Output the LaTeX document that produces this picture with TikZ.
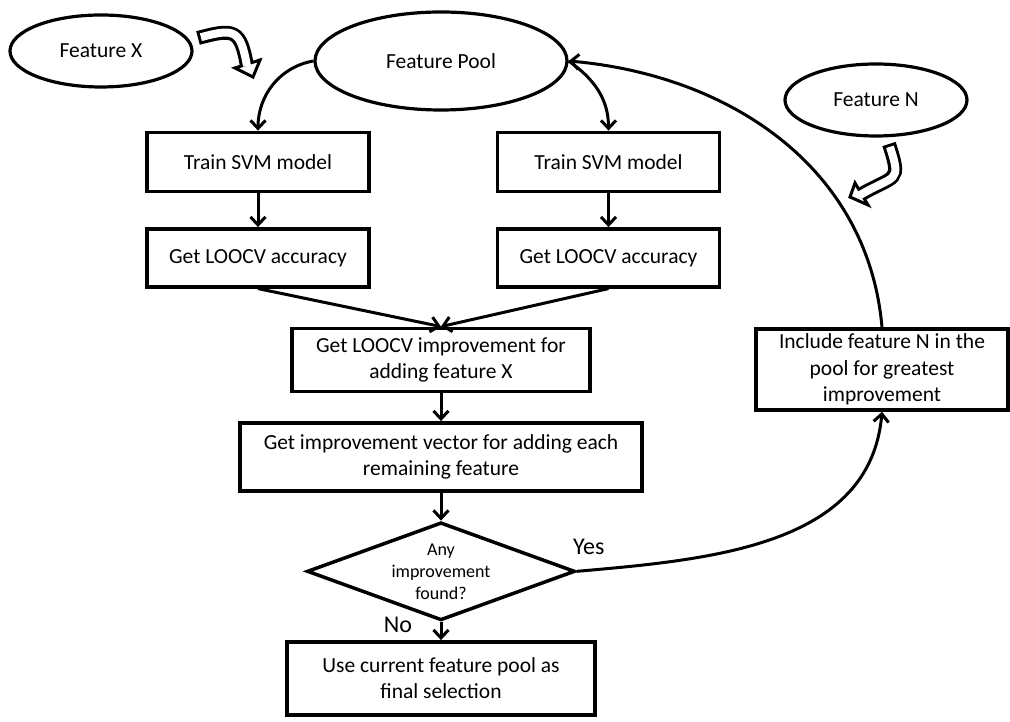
\documentclass[tikz,border=0pt]{standalone}
\usepackage{fontspec}
\setmainfont{Carlito}
\usepackage{tikz}
\usetikzlibrary{shapes.geometric, arrows.meta, positioning}
\newcommand{\boxfont}{\fontsize{21.5}{26.5}\selectfont}
\newcommand{\diafont}{\fontsize{18}{22}\selectfont}
\newcommand{\labfont}{\fontsize{24}{29}\selectfont}
\tikzstyle{block} = [rectangle, draw=black, line width=3.5pt, minimum width=222pt, minimum height=59pt, text centered, align=center, inner sep=2pt, font=\boxfont]
\tikzstyle{feature} = [ellipse, draw=black, line width=3.2pt, minimum width=182pt, minimum height=72pt, inner sep=2pt, font=\boxfont]
\tikzstyle{decision} = [diamond, draw=black, line width=3.5pt, aspect=2.7, minimum width=268pt, minimum height=98pt, inner sep=0pt, align=center, font=\diafont]
\tikzstyle{arrow} = [line width=3pt, ->, >={Straight Barb[length=8pt,width=15pt]}]
\tikzstyle{hollowrim} = [line width=14pt, line cap=butt]
\tikzstyle{hollowcore} = [white, line width=8pt, line cap=butt, shorten <=3pt]
\tikzstyle{hollowhead} = [draw=black, fill=white, line width=3pt, line join=miter]

\begin{document}
\begin{tikzpicture}[x=1pt, y=1pt]
\useasboundingbox (0,0) rectangle (1010,722);

% Pool and candidate features
\node (pool) [feature, minimum width=252pt, minimum height=98pt] at (441,661) {Feature Pool};
\node (feat-x) [feature] at (101,671) {Feature X};
\node (feat-n) [feature] at (876,622) {Feature N};

% SVM branches
\node (train-left) [block, below=19pt of pool, xshift=-183pt] {Train SVM model};
\node (train-right) [block, right=125pt of train-left] {Train SVM model};
\node (acc-left) [block, minimum height=58pt, below=34pt of train-left] {Get LOOCV accuracy};
\node (acc-right) [block, minimum height=58pt, below=34pt of train-right] {Get LOOCV accuracy};

% Main column
\node (improve) [block, minimum width=298pt, minimum height=63pt, below=38pt of acc-left, xshift=183pt] {Get LOOCV improvement for\\adding feature X};
\node (vector) [block, minimum width=402pt, minimum height=68pt, below=28pt of improve] {Get improvement vector for adding each\\remaining feature};
\node (found) [decision, below=28pt of vector] {Any\\improvement\\found?};
\node (final) [block, minimum width=308pt, minimum height=73pt, below=18pt of found] {Use current feature pool as\\final selection};

% Side branch
\node (include) [block, minimum width=252pt, minimum height=81pt] at (882,352.5) {Include feature N in the\\pool for greatest\\improvement};

% Decision labels
\node (yes) [font=\labfont, inner sep=0pt] at ([xshift=12pt, yshift=24pt]found.east) {Yes};
\node (no) [font=\labfont, inner sep=0pt] at ([xshift=-43pt, yshift=-3pt]found.south) {No};

% Arrows
\draw [arrow] (pool.west) to[out=190, in=90] (train-left.north);
\draw [arrow] (pool.east) to[out=-35, in=90] (train-right.north);
\draw [arrow] (train-left) -- (acc-left);
\draw [arrow] (train-right) -- (acc-right);
\draw [arrow] (acc-left.south) -- (improve.north);
\draw [arrow] (acc-right.south) -- (improve.north);
\draw [arrow] (improve) -- (vector);
\draw [arrow] (vector) -- (found);
\draw [arrow] (found) -- (final);
\draw [arrow] (found.east) to[out=5, in=-95] (include.south);
\draw [arrow] (include.north) to[out=95, in=-5] (pool.east);

% Hollow arrows for the added features
\coordinate (x-tail) at (198,684);
\coordinate (x-end) at (247,656);
\draw [hollowrim] (x-tail) to[out=15, in=100, looseness=1.7] (x-end);
\filldraw [hollowhead] (235,654) -- (253,645) -- (260,662) -- cycle;
\draw [hollowcore] (x-tail) to[out=15, in=100, looseness=1.7] (x-end);

\coordinate (n-tail) at (889,578);
\coordinate (n-end) at (860,527);
\draw [hollowrim] (n-tail) to[out=-72, in=30, looseness=1.8] (n-end);
\filldraw [hollowhead] (855,539) -- (850,525) -- (868,517) -- cycle;
\draw [hollowcore] (n-tail) to[out=-72, in=30, looseness=1.8] (n-end);

\end{tikzpicture}
\end{document}
